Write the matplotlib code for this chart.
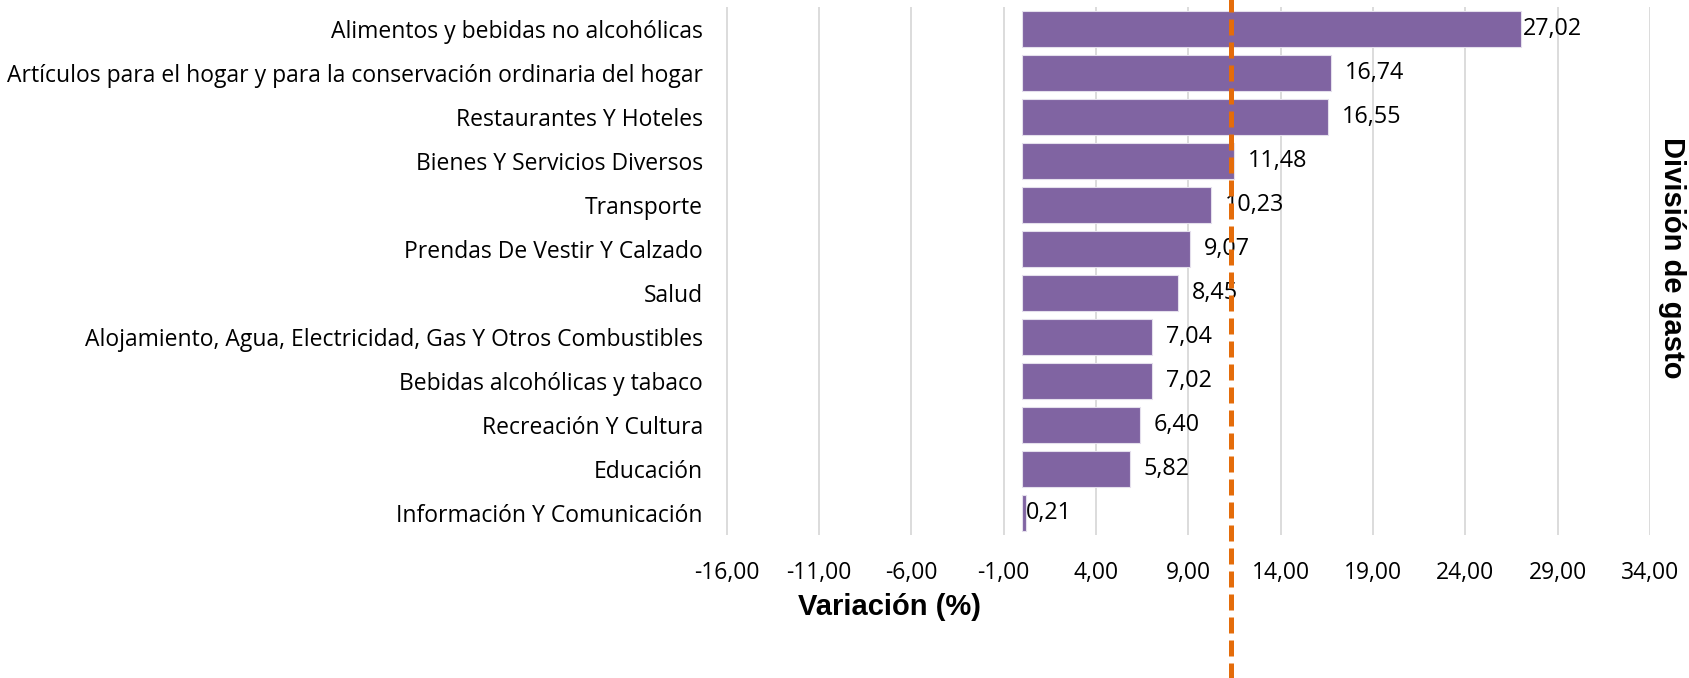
import matplotlib
matplotlib.use("Agg")
import matplotlib.pyplot as plt

categories = [
    "Alimentos y bebidas no alcohólicas",
    "Artículos para el hogar y para la conservación ordinaria del hogar",
    "Restaurantes Y Hoteles",
    "Bienes Y Servicios Diversos",
    "Transporte",
    "Prendas De Vestir Y Calzado",
    "Salud",
    "Alojamiento, Agua, Electricidad, Gas Y Otros Combustibles",
    "Bebidas alcohólicas y tabaco",
    "Recreación Y Cultura",
    "Educación",
    "Información Y Comunicación",
]
values = [27.02, 16.74, 16.55, 11.48, 10.23, 9.07, 8.45, 7.04, 7.02, 6.40, 5.82, 0.21]
reference_value = 11.3
x_ticks = [-16, -11, -6, -1, 4, 9, 14, 19, 24, 29, 34]

label_pads = [1.5, 10, 10, 10, 10, 10, 10, 10, 10, 10, 10, 0]

BAR = "#8064A2"
ORANGE = "#E46C0A"
GRID = "#D9D9D9"
FONT = "Open Sans"

fig = plt.figure(figsize=(16.9, 6.78), dpi=100)
ax = fig.add_axes([726.5 / 1690, 1 - 535 / 678, 923.5 / 1690, 528 / 678])

y = list(range(len(categories)))
bars = ax.barh(y, values, height=0.83, color=BAR, edgecolor="#E4DFEC", linewidth=0.8, zorder=2)

for rect, v, p in zip(bars, values, label_pads):
    ax.annotate(f"{v:.2f}".replace(".", ","),
                xy=(rect.get_width(), rect.get_y() + rect.get_height() / 2),
                xytext=(p, 0), textcoords="offset points",
                ha="left", va="center", fontsize=16.8, family=FONT, color="#000000", zorder=3)

ax.set_xlim(-16, 34)
ax.set_ylim(len(categories) - 0.5, -0.5)
ax.set_xticks(x_ticks)
ax.set_xticklabels([f"{t:.2f}".replace(".", ",") for t in x_ticks], family=FONT, fontsize=16.5)
ax.set_yticks(y)
ax.set_yticklabels(categories, family=FONT, fontsize=16.5)
ax.tick_params(axis="x", length=0, pad=19)
ax.tick_params(axis="y", length=0, pad=17)
ax.grid(axis="x", color=GRID, linewidth=1.3, zorder=0)
ax.set_axisbelow(True)
for s in ax.spines.values():
    s.set_visible(False)

ax.axvline(reference_value, ymin=-0.3, ymax=1.05, clip_on=False, color=ORANGE,
           linewidth=3.6, dashes=(3.2, 1.4), zorder=4)

fig.text(889 / 1690, 1 - 607 / 678, "Variación (%)", ha="center", va="center",
         fontsize=21, fontweight="bold", family="Liberation Sans")
fig.text(1672 / 1690, 1 - 258 / 678, "División de gasto", ha="center", va="center",
         rotation=270, fontsize=21, fontweight="bold", family="Liberation Sans")

fig.savefig("out.png", dpi=100)
